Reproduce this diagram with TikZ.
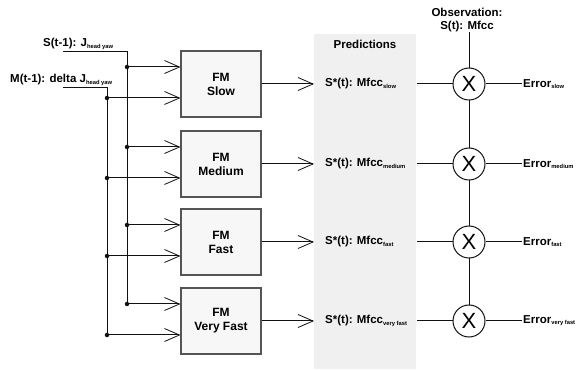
\documentclass[tikz,border=0pt]{standalone}
\usepackage{fontspec}
\setmainfont{Liberation Sans}
\usetikzlibrary{arrows.meta}
\definecolor{linec}{HTML}{111111}
\definecolor{boxborder}{HTML}{555555}
\definecolor{boxfill}{HTML}{F7F7F7}
\definecolor{panelfill}{HTML}{F0F0F0}
\newcommand{\smallsub}[1]{\raisebox{-1.2pt}{\fontsize{5.8}{6}\selectfont #1}}
\tikzset{
  txt/.style={font=\fontsize{11.5}{13}\selectfont\bfseries, inner sep=0pt, text=black},
  fmbox/.style={draw=boxborder, fill=boxfill, line width=1.1pt, minimum width=80pt, minimum height=66pt, align=center, font=\fontsize{12}{14}\selectfont\bfseries, inner sep=0pt},
  conn/.style={draw=linec, line width=1pt},
  arr/.style={conn, -{Straight Barb[length=15pt,width=13pt,line width=0.8pt]}},
  junction/.style={circle, fill=linec, inner sep=0pt, minimum size=4.5pt},
  xcirc/.style={circle, draw=linec, line width=1pt, fill=white, minimum size=32pt, inner sep=0pt, font=\fontsize{22}{22}\selectfont\mdseries},
}
\begin{document}
\begin{tikzpicture}[x=1pt,y=-1pt]
\useasboundingbox (0,0) rectangle (576,371);
% predictions panel
\node[fill=panelfill, minimum width=102pt, minimum height=335pt, inner sep=0pt, anchor=north west] (panel) at (314,34) {};
\node[txt] (predtitle) at (365,44) {Predictions};
% boxes
\node[fmbox] (b1) at (221,84) {FM\\Slow};
\node[fmbox] (b2) at (221,164) {FM\\Medium};
\node[fmbox] (b3) at (221,242) {FM\\Fast};
\node[fmbox] (b4) at (221,321) {FM\\Very Fast};
% input labels
\node[txt, anchor=base west] (slab) at (43,47) {S(t-1): J\smallsub{head yaw}};
\node[txt, anchor=base west] (mlab) at (10,83) {M(t-1): delta J\smallsub{head yaw}};
\coordinate (s0) at (63,52);
\coordinate (sc) at (127,52);
\coordinate (m0) at (63,88);
\coordinate (mc) at (107,88);
\foreach \i/\y in {1/84,2/164,3/242,4/321}{
  \coordinate (sj\i) at (127,\y-17);
  \coordinate (mj\i) at (107,\y+14);
}
\draw[conn] (s0) -- (sc) -- (sj4);
\draw[conn] (m0) -- (mc) -- (mj4);
\foreach \i in {1,2,3,4}{
  \draw[arr] (sj\i) -- (sj\i -| b\i.west);
  \draw[arr] (mj\i) -- (mj\i -| b\i.west);
  \node[junction] at (sj\i) {};
  \node[junction] at (mj\i) {};
}
% observation
\node[txt, align=center, font=\fontsize{11.5}{13}\selectfont\bfseries] (obs) at (467,20) {Observation:\\S(t): Mfcc};
% predictions, comparators, errors
\foreach \i/\y/\s in {1/84/slow,2/164/medium,3/242/fast,4/321/very fast}{
  \coordinate (pin\i) at (314,\y);
  \node[txt, anchor=west] (p\i) at (325,\y) {S*(t): Mfcc\smallsub{\s}};
  \coordinate (pout\i) at (417,\y);
  \coordinate (eend\i) at (522,\y);
}
\draw[conn] (obs.south) ++(2,0) coordinate (obsb) -- (obsb |- 0,321);
\foreach \i/\y/\s in {1/84/slow,2/164/medium,3/242/fast,4/321/very fast}{
  \draw[arr] (b\i.east) -- (pin\i);
  \node[xcirc] (c\i) at (469,\y) {X};
  \draw[conn] (pout\i) -- (c\i.west);
  \draw[conn] (c\i.east) -- (eend\i);
  \node[txt, anchor=west] (e\i) at (523,\y) {Error\smallsub{\s}};
}
\end{tikzpicture}
\end{document}
